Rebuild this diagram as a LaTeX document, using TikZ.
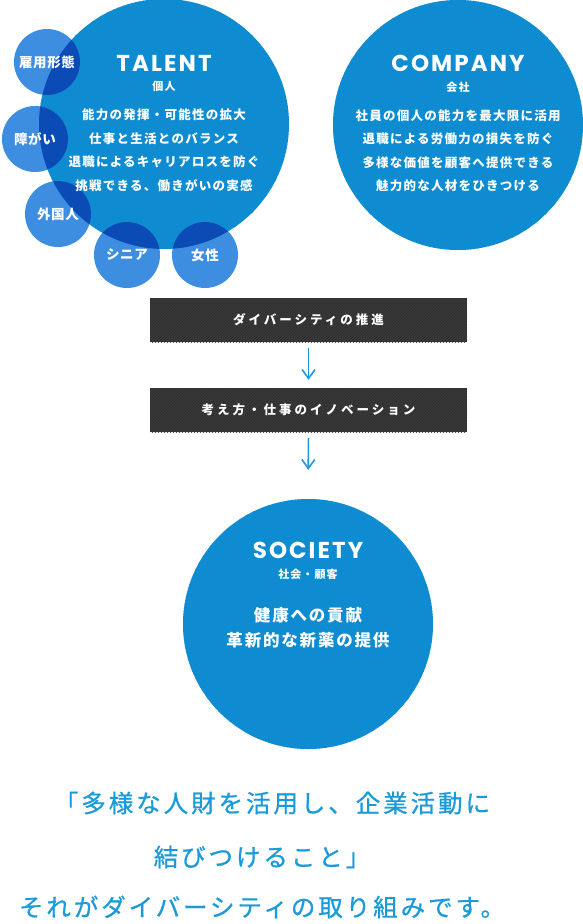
\documentclass[tikz,border=0pt]{standalone}
\usepackage{fontspec}
\usetikzlibrary{arrows.meta,patterns}
\newfontfamily\jp{Noto Sans CJK JP}
\newfontfamily\lat{Poppins}
\definecolor{bigblue}{HTML}{0A8AD0}
\definecolor{stripeblue}{HTML}{1791D5}
\definecolor{smallblue}{HTML}{3D8DE0}
\definecolor{darkblue}{HTML}{0A4BB5}
\definecolor{barbg}{HTML}{3A3A3A}
\definecolor{barstripe}{HTML}{2C2C2C}
\definecolor{arrowblue}{HTML}{1A9AD8}
\begin{document}
\begin{tikzpicture}[x=1pt,y=-1pt,
  bigcirc/.style={circle,inner sep=0pt,minimum size=250pt,fill=bigblue,
    postaction={pattern=north east lines,pattern color=stripeblue}},
  smallcirc/.style={circle,inner sep=0pt,minimum size=66pt,fill=smallblue},
  title/.style={text=white,inner sep=0pt,font=\lat\bfseries\fontsize{23}{23}\selectfont\addfontfeature{LetterSpace=9}},
  subtitle/.style={text=white,inner sep=0pt,font=\jp\bfseries\fontsize{11}{11}\selectfont\addfontfeature{LetterSpace=10}},
  body/.style={text=white,inner sep=0pt,align=center,font=\jp\bfseries\fontsize{12.5}{23.5}\selectfont\addfontfeature{LetterSpace=10}},
  bigbody/.style={text=white,inner sep=0pt,align=center,font=\jp\bfseries\fontsize{16.5}{25}\selectfont\addfontfeature{LetterSpace=11}},
  smalltext/.style={text=white,inner sep=0pt,font=\jp\bfseries\fontsize{13.5}{13.5}\selectfont\addfontfeature{LetterSpace=4}},
  bar/.style={fill=barbg,postaction={pattern=north east lines,pattern color=barstripe},
    minimum width=317pt,minimum height=44pt,inner sep=0pt,text=white,
    font=\jp\bfseries\fontsize{12.5}{12.5}\selectfont\addfontfeature{LetterSpace=24}},
  arr/.style={draw=arrowblue,line width=1.6pt,-{Straight Barb[length=9pt,width=13pt]}},
  bottomtext/.style={text=arrowblue,inner sep=0pt,font=\jp\fontsize{24.5}{24.5}\selectfont\addfontfeature{LetterSpace=12,FakeBold=0.8}}
]
\useasboundingbox (0,0) rectangle (583,924);

% big circles
\node[bigcirc] (talent) at (164,124) {};
\node[bigcirc] (company) at (458,125) {};
\node[bigcirc] (society) at (308,624) {};

% small circles
\node[smallcirc] (koyo) at (47,62) {};
\node[smallcirc] (shogai) at (35,139) {};
\node[smallcirc] (gaikoku) at (58,214) {};
\node[smallcirc] (senior) at (127,255) {};
\node[smallcirc] (josei) at (205,255) {};

% overlaps
\begin{scope}
  \clip (talent.center) circle (125pt);
  \foreach \c in {koyo,shogai,gaikoku,senior,josei}
    \fill[darkblue] (\c.center) circle (33pt);
\end{scope}

% small circle labels
\node[smalltext] at (koyo.center) {雇用形態};
\node[smalltext] at (shogai.center) {障がい};
\node[smalltext] at (gaikoku.center) {外国人};
\node[smalltext] at (senior.center) {シニア};
\node[smalltext] at (josei.center) {女性};

% TALENT
\node[title] (ttitle) at (164,63) {TALENT};
\node[subtitle] (tsub) at (164,86) {個人};
\node[body] (tbody) at (164,150) {能力の発揮・可能性の拡大\\仕事と生活とのバランス\\退職によるキャリアロスを防ぐ\\挑戦できる、働きがいの実感};

% COMPANY
\node[title] (ctitle) at (458,63) {COMPANY};
\node[subtitle] (csub) at (458,87) {会社};
\node[body] (cbody) at (458,150.5) {社員の個人の能力を最大限に活用\\退職による労働力の損失を防ぐ\\多様な価値を顧客へ提供できる\\魅力的な人材をひきつける};

% bars
\node[bar] (b1) at (308.5,320) {ダイバーシティの推進};
\node[bar] (b2) at (308.5,410) {考え方・仕事のイノベーション};
\draw[arr,shorten <=6pt,shorten >=8pt] (b1.south) -- (b2.north);
\draw[arr,shorten <=6pt,shorten >=29pt] (b2.south) -- (society.north);

% SOCIETY
\node[title] (stitle) at (308,550) {SOCIETY};
\node[subtitle] (ssub) at (308,574) {社会・顧客};
\node[bigbody] (sbody) at (308,627.5) {健康への貢献\\革新的な新薬の提供};

% bottom text
\node[bottomtext] (l1) at (272,803) {「多様な人財を活用し、企業活動に};
\node[bottomtext] (l2) at (262,857) {結びつけること」};
\node[bottomtext] (l3) at (262,907) {それがダイバーシティの取り組みです。};
\end{tikzpicture}
\end{document}
